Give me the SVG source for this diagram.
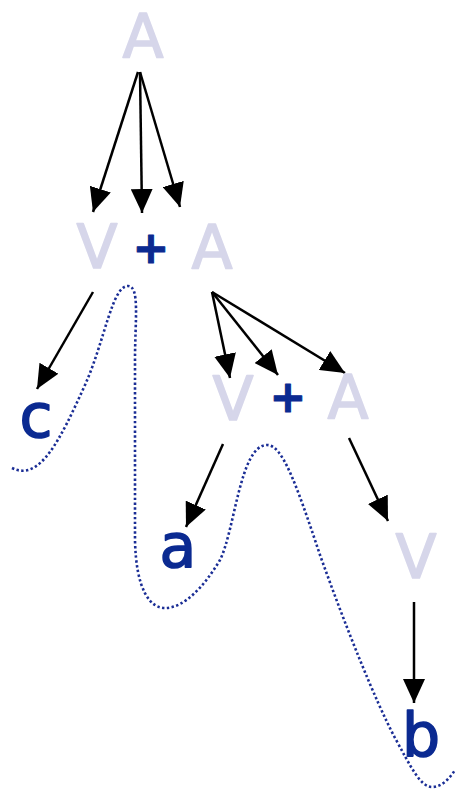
<svg xmlns="http://www.w3.org/2000/svg" width="457" height="789" viewBox="0 0 457 789">
<defs>
<style>
.nt{font-family:"DejaVu Sans","Noto Sans",sans-serif;font-size:60px;fill:#d6d6ea;stroke:#d6d6ea;stroke-width:1.6;stroke-linejoin:round;text-anchor:middle}
.t{font-family:"DejaVu Sans","Noto Sans",sans-serif;font-size:60px;fill:#0b2a91;stroke:#0b2a91;stroke-width:1.6;stroke-linejoin:round;text-anchor:middle}
.p{font-family:"DejaVu Sans","Noto Sans",sans-serif;font-size:44px;font-weight:bold;fill:#0b2a91;stroke:#0b2a91;stroke-width:1;stroke-linejoin:round;text-anchor:middle}
.e{stroke:#000;stroke-width:2.5;fill:none;marker-end:url(#ah)}
.dot{stroke:#1a2d95;stroke-width:2.6;fill:none;stroke-dasharray:2.4 2.4}
</style>
<marker id="ah" markerUnits="userSpaceOnUse" markerWidth="24" markerHeight="22" viewBox="0 0 24 22" refX="24" refY="11" orient="auto">
<path d="M0,0 L24,11 L0,22 z" fill="#000"/>
</marker>
</defs>
<g id="curve">
<path class="dot" d="M12,468 C40,482 60,440 85,385 C105,340 112,286 128,286 C140,286 135,320 135,360 L135,540 C136,590 150,608 165,608 C185,608 205,585 220,560 C235,530 240,445 267,445 C282,445 295,480 320,555 C345,625 375,700 395,738 C410,765 420,787 432,787 C442,787 450,778 455,770"/>
</g>
<g id="connectors">
<line class="e" x1="138" y1="72" x2="93" y2="212"/>
<line class="e" x1="140" y1="72" x2="142" y2="213"/>
<line class="e" x1="140" y1="72" x2="180" y2="207"/>
<line class="e" x1="93" y1="292" x2="37" y2="389"/>
<line class="e" x1="212" y1="292" x2="230" y2="378"/>
<line class="e" x1="212" y1="292" x2="278" y2="375"/>
<line class="e" x1="212" y1="292" x2="345" y2="373"/>
<line class="e" x1="223" y1="444" x2="186" y2="527"/>
<line class="e" x1="349" y1="438" x2="388" y2="521"/>
<line class="e" x1="414" y1="602" x2="414" y2="703"/>
</g>
<g id="A0"><text class="nt" x="143" y="57">A</text></g>
<g id="V1"><text class="nt" x="97" y="268">V</text></g>
<g id="plus1"><text class="p" x="151" y="263">+</text></g>
<g id="A1"><text class="nt" x="212" y="268">A</text></g>
<g id="c"><text class="t" x="36" y="437">c</text></g>
<g id="V2"><text class="nt" x="233" y="420">V</text></g>
<g id="plus2"><text class="p" x="288" y="412">+</text></g>
<g id="A2"><text class="nt" x="348" y="418">A</text></g>
<g id="a"><text class="t" x="178" y="567">a</text></g>
<g id="V3"><text class="nt" x="416" y="578">V</text></g>
<g id="b"><text class="t" x="421" y="756">b</text></g>
</svg>
